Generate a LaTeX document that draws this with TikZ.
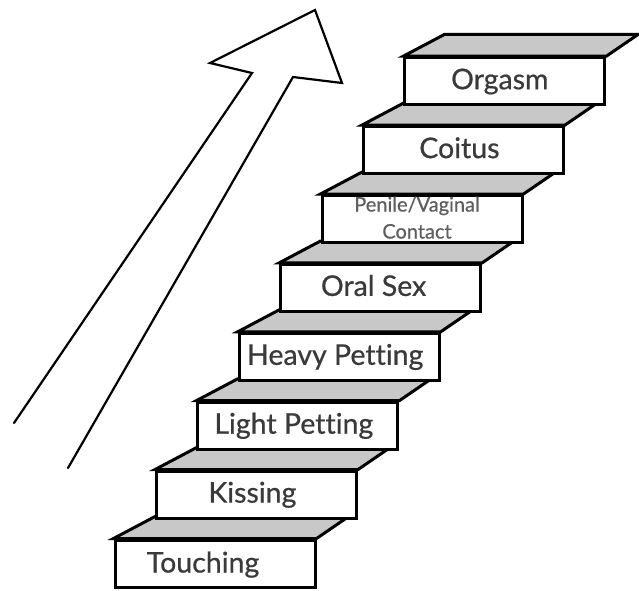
\documentclass[tikz,border=0pt]{standalone}
\usepackage{fontspec}
\setmainfont{Lato}[Ligatures={NoCommon}, FakeBold=0.6]
\usetikzlibrary{calc}
\definecolor{txtgray}{HTML}{3A3A3A}
\definecolor{smallgray}{HTML}{5E5E5E}
\definecolor{treadgray}{HTML}{C8C8C8}
\tikzset{
  stepbox/.style={draw=black, line width=3pt, fill=white, inner sep=0pt,
    minimum width=200pt, minimum height=47pt, line join=miter},
  tread/.style={draw=black, line width=3pt, fill=treadgray, line join=miter},
  steptext/.style={anchor=base, inner sep=0pt, text=txtgray, font=\fontsize{28.5}{30}\selectfont},
  smalltext/.style={anchor=base, inner sep=0pt, text=smallgray, align=center,
    font=\fontsize{20}{27}\selectfont},
  arrowline/.style={draw=black, line width=2.2pt, line join=miter, line cap=round}
}
\begin{document}
\begin{tikzpicture}[x=1pt,y=-1pt]
\useasboundingbox (0,0) rectangle (639,590);
\fill[white] (0,0) rectangle (639,590);
% arrow
\coordinate (lt) at (14,423);
\coordinate (ls) at (252,73);
\coordinate (lb) at (210,63);
\coordinate (tip) at (315,10);
\coordinate (rb) at (342,83);
\coordinate (rs) at (293,77);
\coordinate (rt) at (68,468);
\draw[arrowline] (lt) -- (ls) -- (lb) -- (tip) -- (rb) -- (rs) -- (rt);
% steps
\foreach \i in {0,...,7}{
  \node[stepbox] (s\i) at ({215+41.4*\i},{563.5-68.9*\i}) {};
  \draw[tread] (s\i.north west) -- ($(s\i.north west)+(41.4,-21.9)$)
     -- ($(s\i.north east)+(32,-21.9)$) -- (s\i.north east) -- cycle;
}
\node[steptext] (t0) at ($(s0.north)+(-12,34)$) {Touching};
\node[steptext] (t1) at ($(s1.north)+(-4,33)$) {Kissing};
\node[steptext] (t2) at ($(s2.north)+(-4,33)$) {Light Petting};
\node[steptext] (t3) at ($(s3.north)+(-4,33)$) {Heavy Petting};
\node[steptext] (t4) at ($(s4.north)+(-7,33)$) {Oral Sex};
\node[smalltext, anchor=base] (t5a) at ($(s5.north)+(-5,17.5)$) {Penile/Vaginal};
\node[smalltext, anchor=base] (t5b) at ($(s5.north)+(-5,44.5)$) {Contact};
\node[steptext] (t6) at ($(s6.north)+(-4,33)$) {Coitus};
\node[steptext] (t7) at ($(s7.north)+(-5,33)$) {Orgasm};
\end{tikzpicture}
\end{document}
